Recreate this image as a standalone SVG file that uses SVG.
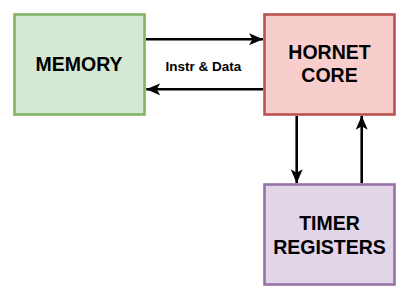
<svg xmlns="http://www.w3.org/2000/svg" width="413" height="303" viewBox="0 0 413 303">
  <style>
    .box { stroke-width: 2.6; }
    .label { font-family: "Liberation Sans", Arial, sans-serif; font-weight: bold; fill: #000; text-anchor: middle; }
    .big { font-size: 19.5px; }
    .small { font-size: 13.5px; }
    .wire { fill: none; stroke: #000; stroke-width: 2.6; marker-end: url(#head); }
  </style>
  <defs>
    <marker id="head" markerUnits="userSpaceOnUse" markerWidth="16" markerHeight="14" refX="14" refY="6" orient="auto" viewBox="0 0 16 12">
      <path d="M0,0 L14,6 L0,12 L3.5,6 Z" fill="#000"/>
    </marker>
  </defs>
  <rect width="413" height="303" fill="#fff"/>

  <g id="connectors">
    <path class="wire" d="M145.8,39.2 H263"/>
    <path class="wire" d="M263.2,89.3 H146.2"/>
    <path class="wire" d="M296.7,115.8 V183.2"/>
    <path class="wire" d="M361.7,183.2 V115.8"/>
  </g>

  <g id="memory">
    <rect class="box" x="14.5" y="14.5" width="130" height="100" fill="#d5e8d4" stroke="#82b366"/>
    <text class="label big" x="79" y="70.7">MEMORY</text>
  </g>

  <g id="hornet-core">
    <rect class="box" x="264.5" y="14.5" width="130" height="100" fill="#f8cecc" stroke="#b85450"/>
    <text class="label big" x="329.5" y="58.5">HORNET</text>
    <text class="label big" x="329.5" y="82">CORE</text>
  </g>

  <g id="timer-registers">
    <rect class="box" x="264.5" y="184.5" width="130" height="100" fill="#e1d5e7" stroke="#9673a6"/>
    <text class="label big" x="329.5" y="230">TIMER</text>
    <text class="label big" x="329.5" y="254">REGISTERS</text>
  </g>

  <g id="bus-label">
    <text class="label small" x="203.5" y="71">Instr &amp; Data</text>
  </g>
</svg>
